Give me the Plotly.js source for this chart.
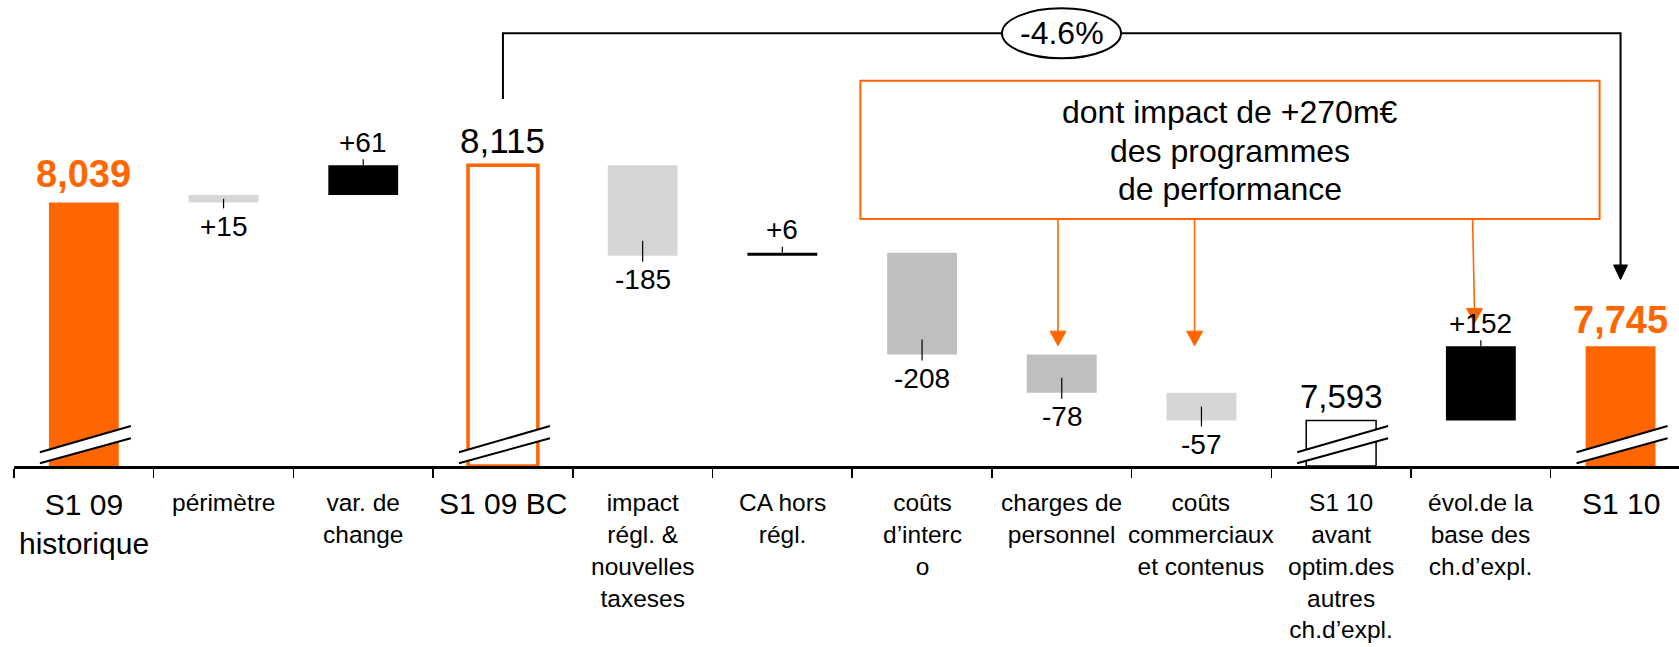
<!DOCTYPE html>
<html><head><meta charset="utf-8">
<script src="https://cdn.plot.ly/plotly-3.0.1.min.js"></script>
<style>html,body{margin:0;padding:0;background:#fff;overflow:hidden}#chart{width:1679px;height:647px}</style>
</head><body><div id="chart"></div>
<script>
// ---------- DATA ----------
const categories = [
  "S1 09<br>historique", "périmètre", "var. de<br>change", "S1 09 BC",
  "impact<br>régl. &<br>nouvelles<br>taxeses", "CA hors<br>régl.", "coûts<br>d’interc<br>o",
  "charges de<br>personnel", "coûts<br>commerciaux<br>et contenus",
  "S1 10<br>avant<br>optim.des<br>autres<br>ch.d’expl.", "évol.de la<br>base des<br>ch.d’expl.", "S1 10"
];
const values = [8039, 15, 61, 8115, -185, 6, -208, -78, -57, 7593, 152, 7745];
const kinds = ["total","delta","delta","total","delta","delta","delta","delta","delta","total","delta","total"];
const growthLabel = "-4.6%";
const noteLines = ["dont impact de +270m€", "des programmes", "de performance"];

// ---------- STYLE / LAYOUT ----------
const W = 1679, H = 647, ML = 14, MB = 181, PLOT_H = H - MB;
const BAND = 139.7, PXU = 0.489, FLOOR = 7500;
const FONT = "Liberation Sans, Arial, Helvetica, sans-serif";
const ORANGE = "#ff6600", LGRAY = "#d5d6d8", MGRAY = "#bfbfbf", BLACK = "#000000";
const yTop = FLOOR + PLOT_H / PXU;
const xMax = (W - ML) / BAND - 0.5;
const xv = px => (px - ML) / BAND - 0.5;
const yv = py => FLOOR + (PLOT_H - py) / PXU;
const dx = px => px / BAND;
const du = px => px / PXU;
const paperY = py => (PLOT_H - py) / PLOT_H;

const barFill      = [ORANGE, LGRAY, BLACK, "#ffffff", LGRAY, BLACK, MGRAY, MGRAY, LGRAY, "#ffffff", BLACK, ORANGE];
const barLineColor = [ORANGE, LGRAY, BLACK, ORANGE, LGRAY, BLACK, MGRAY, MGRAY, LGRAY, BLACK, BLACK, ORANGE];
const barLineWidth = [0, 0, 0, 3.5, 0, 0, 0, 0, 0, 1.5, 0, 0];
const labelSide    = ["", "below", "above", "", "below", "above", "below", "below", "below", "", "above", ""];
const totalStyle = {
  0:  {size: 38, color: ORANGE, bold: true,  shift: 28},
  3:  {size: 35, color: BLACK,  bold: false, shift: 24.5},
  9:  {size: 33, color: BLACK,  bold: false, shift: 24},
  11: {size: 38, color: ORANGE, bold: true,  shift: 26.5}
};
const bigCats = [0, 3, 11];

// ---------- WATERFALL GEOMETRY ----------
const bases = [], heights = [], tops = [], bottoms = [];
let running = 0;
values.forEach((v, i) => {
  if (kinds[i] === "total") {
    bases.push(FLOOR); heights.push(v - FLOOR); tops.push(v); bottoms.push(FLOOR); running = v;
  } else {
    const a = running, b = running + v;
    bases.push(Math.min(a, b)); heights.push(Math.abs(v));
    tops.push(Math.max(a, b)); bottoms.push(Math.min(a, b)); running = b;
  }
});

const trace = {
  type: "bar", x: categories, y: heights, base: bases, width: 0.5,
  marker: {color: barFill, line: {color: barLineColor, width: barLineWidth}},
  hoverinfo: "skip", showlegend: false
};

const shapes = [];
const annotations = [];

// value labels + connector ticks
values.forEach((v, i) => {
  if (kinds[i] === "total") {
    const s = totalStyle[i];
    const t = v.toLocaleString("en-US");
    annotations.push({x: i, y: tops[i], xref: "x", yref: "y", yshift: s.shift, yanchor: "middle",
      text: s.bold ? "<b>" + t + "</b>" : t, showarrow: false,
      font: {family: FONT, size: s.size, color: s.color}});
  } else {
    const t = (v > 0 ? "+" : "") + v;
    const hPx = heights[i] * PXU;
    if (labelSide[i] === "above") {
      annotations.push({x: i, y: tops[i], xref: "x", yref: "y", yshift: 23, yanchor: "middle",
        text: t, showarrow: false, font: {family: FONT, size: 28, color: BLACK}});
      shapes.push({type: "line", xref: "x", yref: "y", x0: i, x1: i, y0: tops[i], y1: tops[i] + du(6),
        line: {color: BLACK, width: 1.2}});
    } else {
      annotations.push({x: i, y: bottoms[i], xref: "x", yref: "y", yshift: -24, yanchor: "middle",
        text: t, showarrow: false, font: {family: FONT, size: 28, color: BLACK}});
      shapes.push({type: "line", xref: "x", yref: "y", x0: i, x1: i,
        y0: bottoms[i] + du(Math.min(15, hPx / 2)), y1: bottoms[i] - du(6),
        line: {color: BLACK, width: 1.2}});
    }
  }
});

// axis break marks on total bars
values.forEach((v, i) => {
  if (kinds[i] !== "total") return;
  const xl = i + dx(-44), xr = i + dx(47);
  const lowL = yv(463.3), lowR = yv(438.3), upL = yv(452.3), upR = yv(426);
  shapes.push({type: "path", xref: "x", yref: "y",
    path: `M${xl},${lowL} L${xr},${lowR} L${xr},${upR} L${xl},${upL} Z`,
    fillcolor: "#ffffff", line: {width: 0}});
  shapes.push({type: "line", xref: "x", yref: "y", x0: xl, y0: lowL, x1: xr, y1: lowR, line: {color: BLACK, width: 2}});
  shapes.push({type: "line", xref: "x", yref: "y", x0: xl, y0: upL, x1: xr, y1: upR, line: {color: BLACK, width: 2}});
});

// bracket from S1 09 BC to S1 10
const iFrom = 3, iTo = 11;
shapes.push({type: "path", xref: "x", yref: "y",
  path: `M${iFrom},${yv(99)} L${iFrom},${yv(33.3)} L${iTo},${yv(33.3)} L${iTo},${yv(267)}`,
  line: {color: BLACK, width: 2}});
shapes.push({type: "path", xref: "x", yref: "y",
  path: `M${iTo + dx(-7)},${yv(265)} L${iTo + dx(7)},${yv(265)} L${iTo},${yv(279.5)} Z`,
  fillcolor: BLACK, line: {color: BLACK, width: 1}});
shapes.push({type: "circle", xref: "x", yref: "y", x0: xv(1002), x1: xv(1121), y0: yv(58.3), y1: yv(8.3),
  fillcolor: "#ffffff", line: {color: BLACK, width: 2}});
annotations.push({x: xv(1062), y: yv(33.3), xref: "x", yref: "y", yanchor: "middle", showarrow: false,
  text: growthLabel, font: {family: FONT, size: 32, color: BLACK}});

// orange note box + arrows
shapes.push({type: "rect", xref: "x", yref: "y", x0: xv(860.4), x1: xv(1599.6), y0: yv(219), y1: yv(80.7),
  fillcolor: "rgba(0,0,0,0)", line: {color: ORANGE, width: 2}});
const noteCenters = [112.2, 150.6, 188.9];
noteLines.forEach((t, k) => {
  annotations.push({x: xv(1230), y: yv(noteCenters[k]), xref: "x", yref: "y", yanchor: "middle", showarrow: false,
    text: t, font: {family: FONT, size: 32, color: BLACK}});
});
const orangeArrows = [[1058, 1058, 345.7], [1194.6, 1194.6, 345.7], [1472.6, 1474.5, 323]];
orangeArrows.forEach(([xa, xb, tip]) => {
  shapes.push({type: "line", xref: "x", yref: "y", x0: xv(xa), y0: yv(220), x1: xv(xb), y1: yv(tip - 13),
    line: {color: ORANGE, width: 1.6}});
  shapes.push({type: "path", xref: "x", yref: "y",
    path: `M${xv(xb - 8)},${yv(tip - 14.5)} L${xv(xb + 8)},${yv(tip - 14.5)} L${xv(xb)},${yv(tip)} Z`,
    fillcolor: ORANGE, line: {color: ORANGE, width: 1}});
});

// category labels
categories.forEach((c, i) => {
  const big = bigCats.includes(i);
  annotations.push({x: i, xref: "x", yref: "paper", y: paperY(big ? 485.5 : 487), yanchor: "top",
    xanchor: "center", align: "center", showarrow: false, text: c,
    font: {family: FONT, size: big ? 30 : 24.5, color: BLACK}});
});

const layout = {
  width: W, height: H,
  margin: {l: ML, r: 0, t: 0, b: MB, pad: 0},
  paper_bgcolor: "#ffffff", plot_bgcolor: "#ffffff",
  font: {family: FONT, color: BLACK},
  showlegend: false,
  xaxis: {type: "category", range: [-0.5, xMax], showline: true, linecolor: BLACK, linewidth: 2.5,
    ticks: "outside", ticklen: 9, tickwidth: 1.5, tickcolor: BLACK, tickson: "boundaries",
    showticklabels: false, showgrid: false, zeroline: false, fixedrange: true},
  yaxis: {range: [FLOOR, yTop], visible: false, showgrid: false, zeroline: false, fixedrange: true},
  shapes: shapes, annotations: annotations
};

Plotly.newPlot("chart", [trace], layout, {displayModeBar: false, staticPlot: true});
</script>
</body></html>
